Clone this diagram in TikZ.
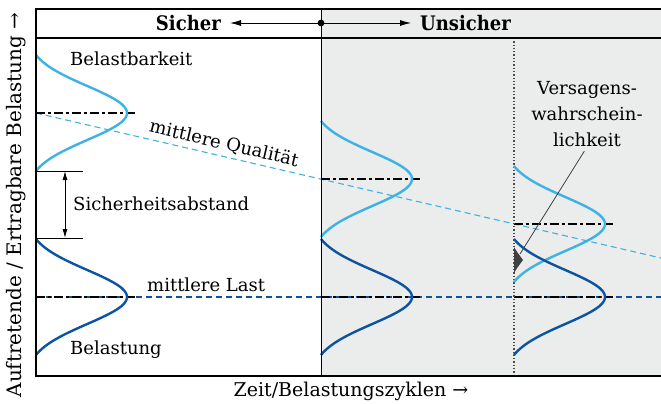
\documentclass[tikz,border=0pt]{standalone}
\usepackage{fontspec}
\setmainfont{DejaVu Serif}
\newfontfamily\kopfschrift{DejaVu Serif Condensed}
\usepackage{tikz}
\usetikzlibrary{arrows.meta}

\definecolor{hellblau}{RGB}{62,178,228}
\definecolor{dunkelblau}{RGB}{12,84,162}
\definecolor{hintergrund}{RGB}{235,236,236}

\tikzset{
  beschriftung/.style={font=\fontsize{18}{26}\selectfont, inner sep=0pt},
  kopf/.style={font=\kopfschrift\fontsize{20}{22}\selectfont\bfseries, inner ysep=0pt, inner xsep=9pt},
  mittelwert/.style={line width=1.4pt, dash pattern=on 9pt off 3pt on 3pt off 3pt},
  trend/.style={line width=1.1pt, dash pattern=on 6pt off 4pt},
  glocke/.style={line width=2.4pt, line join=round},
}

% Verteilung: Grundlinie x, Mittelwert y, Farbe
\newcommand{\verteilung}[3]{%
  \draw[glocke, #3] plot[domain=-58:58, samples=81, smooth]
    ({#1+91*(exp(-((\x)*(\x))/1458)-0.0995)/0.9005}, {#2+\x});
}

\begin{document}
\begin{tikzpicture}[x=1pt, y=-1pt]
\useasboundingbox (0,0) rectangle (661,404);

% unsicherer Bereich
\fill[hintergrund] (321,9) rectangle (661,376);

% Trendlinien
\draw[trend, hellblau] (36,113) -- (661,258);
\draw[trend, dunkelblau] (36,297) -- (661,297);

% Mittelwerte
\draw[mittelwert] (36,113) -- (136,113);
\draw[mittelwert] (36,297) -- (136,297);
\draw[mittelwert] (321,179) -- (422,179);
\draw[mittelwert] (321,297) -- (422,297);
\draw[mittelwert] (514,224) -- (615,224);
\draw[mittelwert] (514,297) -- (615,297);

% Zeitpunkte
\draw[dotted, line width=1.3pt, black!70] (514,38) -- (514,376);

% Verteilungen
\verteilung{36}{113}{hellblau}
\verteilung{36}{297}{dunkelblau}
\verteilung{321}{179}{hellblau}
\verteilung{321}{297}{dunkelblau}
\verteilung{514}{224}{hellblau}
\verteilung{514}{297}{dunkelblau}

% Ueberlappung
\fill[black!75] (514,247) .. controls (517,252) and (520,256) .. (523,260)
  .. controls (520,264) and (517,268) .. (514,273) -- cycle;
\coordinate (spitze) at (520,254);

% Sicherheitsabstand
\coordinate (abstandoben) at (65,171);
\coordinate (abstandunten) at (65,238);
\draw[line width=0.8pt] (36,171) -- (83,171);
\draw[line width=0.8pt] (36,238) -- (83,238);
\draw[line width=0.8pt, {Latex[length=9pt,width=5pt]}-{Latex[length=9pt,width=5pt]}] (abstandoben) -- (abstandunten);
\node[beschriftung, anchor=west] (abstand) at (73,204) {Sicherheitsabstand};

% Beschriftungen
\node[beschriftung, anchor=west] (belastbarkeit) at (70,59) {Belastbarkeit};
\node[beschriftung, anchor=west] (belastung) at (70,350) {Belastung};
\node[beschriftung, anchor=west] (last) at (147,285) {mittlere Last};
\node[beschriftung, rotate=-13.2] (qualitaet) at (224,144) {mittlere Qualität};
\node[beschriftung, align=center] (versagen) at (587,114) {Versagens-\\wahrschein-\\lichkeit};
\draw[black!75, line width=0.8pt, shorten <=5pt] (versagen.south) -- (spitze);

% Kopfzeile
\coordinate (mitte) at (321,23);
\node[kopf, anchor=east] (sicher) at (230,23) {Sicher};
\node[kopf, anchor=west] (unsicher) at (411,23) {Unsicher};
\draw[line width=0.8pt, -{Latex[length=11pt,width=6pt]}] (mitte) -- (sicher.east);
\draw[line width=0.8pt, -{Latex[length=11pt,width=6pt]}] (mitte) -- (unsicher.west);
\fill (mitte) circle (3.4pt);

% Rahmen
\draw[line width=0.9pt] (321,9) -- (321,376);
\draw[line width=2.2pt] (661,9) -- (36,9) -- (36,376) -- (661,376);
\draw[line width=2.2pt] (36,38) -- (661,38);

% Achsen
\node[beschriftung, font=\fontsize{20}{24}\selectfont, rotate=90] (ordinate) at (16,205) {Auftretende / Ertragbare Belastung →};
\node[beschriftung, font=\fontsize{19}{24}\selectfont] (abszisse) at (351,391) {Zeit/Belastungszyklen →};
\end{tikzpicture}
\end{document}
